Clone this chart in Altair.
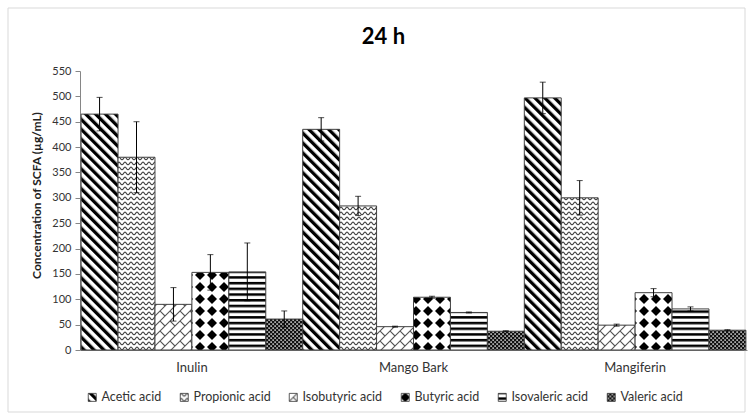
import altair as alt
import pandas as pd

# Substrates (x categories) and acids (series)
groups = ["Inulin", "Mango Bark", "Mangiferin"]
acids = ["Acetic acid", "Propionic acid", "Isobutyric acid",
         "Butyric acid", "Isovaleric acid", "Valeric acid"]

# Mean SCFA concentration after 24 h (µg/mL), in the order of `acids`
inulin = [465, 380, 90, 153, 154, 61]
mango_bark = [435, 284, 46, 104, 74, 37]
mangiferin = [497, 300, 49, 113, 81, 39]

# Standard deviations, same order
inulin_sd = [33, 70, 33, 35, 57, 16]
mango_bark_sd = [23, 19, 1, 2, 1, 1]
mangiferin_sd = [31, 34, 2, 8, 4, 1]

y_ticks = list(range(0, 551, 50))

FONT = "Lato"
Y_TITLE = "Concentration of  SCFA (µg/mL)"

# One SVG pattern per acid, referenced by the fill scale below
pattern_ids = ["p-acetic", "p-propionic", "p-isobutyric",
               "p-butyric", "p-isovaleric", "p-valeric"]
fills = [f"url(#{pid})" for pid in pattern_ids]

PATTERN_DEFS = """
<svg width="0" height="0" style="position:absolute" aria-hidden="true">
 <defs>
  <pattern id="p-acetic" patternUnits="userSpaceOnUse" width="7" height="7" patternTransform="rotate(-45)">
   <rect width="7" height="7" fill="#fff"/>
   <rect width="3.3" height="7" fill="#000"/>
  </pattern>
  <pattern id="p-propionic" patternUnits="userSpaceOnUse" width="6" height="5">
   <rect width="6" height="5" fill="#fff"/>
   <path d="M0,3.7 C1.5,3.7 1.5,1.2 3,1.2 C4.5,1.2 4.5,3.7 6,3.7" fill="none" stroke="#444" stroke-width="1.2"/>
  </pattern>
  <pattern id="p-isobutyric" patternUnits="userSpaceOnUse" width="10" height="10">
   <rect width="10" height="10" fill="#fff"/>
   <path d="M-1,11 L11,-1 M-1,1 L1,-1 M9,11 L11,9 M0,0 L5,5" fill="none" stroke="#555" stroke-width="1.1"/>
  </pattern>
  <pattern id="p-butyric" patternUnits="userSpaceOnUse" x="6" y="6" width="12" height="12">
   <rect width="12" height="12" fill="#fff"/>
   <path d="M6,1 L11,6 L6,11 L1,6 Z" fill="#000"/>
  </pattern>
  <pattern id="p-isovaleric" patternUnits="userSpaceOnUse" width="5.7" height="5.7">
   <rect width="5.7" height="5.7" fill="#fff"/>
   <rect width="5.7" height="2.5" fill="#000"/>
  </pattern>
  <pattern id="p-valeric" patternUnits="userSpaceOnUse" width="4" height="4">
   <rect width="4" height="4" fill="#111"/>
   <rect x="0.4" y="0.4" width="1.4" height="1.4" fill="#fff"/>
   <rect x="2.4" y="2.4" width="1.4" height="1.4" fill="#fff"/>
  </pattern>
 </defs>
</svg>
"""

rows = []
for g, means, sds in zip(groups,
                         [inulin, mango_bark, mangiferin],
                         [inulin_sd, mango_bark_sd, mangiferin_sd]):
    for a, m, s in zip(acids, means, sds):
        rows.append({"substrate": g, "acid": a, "mean": m,
                     "lo": m - s, "hi": m + s})
df = pd.DataFrame(rows)

x_scale = alt.Scale(paddingInner=0, paddingOuter=0.005)
off_scale = alt.Scale(paddingInner=0, paddingOuter=0)
y_scale = alt.Scale(domain=[0, 550], nice=False)

x_axis = alt.Axis(title=None, labelAngle=0, ticks=False, tickSize=0,
                  domainColor="#868686", labelPadding=11,
                  labelFont=FONT, labelFontSize=13, labelColor="#333")
y_axis = alt.Axis(values=y_ticks, title=Y_TITLE, grid=False,
                  domainColor="#868686", tickColor="#868686", tickSize=5,
                  labelPadding=4, labelFont=FONT, labelFontSize=11,
                  labelColor="#333",
                  titleFont=FONT, titleFontSize=12, titleFontWeight="bold",
                  titleColor="#222", titleAngle=270, titleX=-44, titleY=124,
                  titleAlign="center", titleBaseline="middle")

x_enc = alt.X("substrate:N", sort=groups, scale=x_scale, axis=x_axis)
x_off = alt.XOffset("acid:N", sort=acids, scale=off_scale)


def y_enc(field):
    return alt.Y(field, type="quantitative", scale=y_scale, axis=y_axis)


bars = alt.Chart(df).mark_bar(stroke="#404040", strokeWidth=1).encode(
    x=x_enc,
    xOffset=x_off,
    y=y_enc("mean"),
    color=alt.Color(
        "acid:N", sort=acids,
        scale=alt.Scale(domain=acids, range=fills),
        legend=alt.Legend(
            title=None, orient="none", legendX=6, legendY=320,
            direction="horizontal", columns=6, padding=0,
            symbolType="square", symbolSize=64,
            symbolStrokeColor="#333", symbolStrokeWidth=0.8,
            labelFont=FONT, labelFontSize=12.5, labelColor="#333",
            labelOffset=3, columnPadding=16,
        ),
    ),
)

err = alt.Chart(df).mark_rule(color="black", strokeWidth=1).encode(
    x=x_enc, xOffset=x_off, y=y_enc("lo"), y2="hi:Q",
)

cap_hi = alt.Chart(df).mark_tick(color="black", thickness=1, size=6,
                                 orient="horizontal").encode(
    x=x_enc, xOffset=x_off, y=y_enc("hi"),
)

cap_lo = alt.Chart(df).mark_tick(color="black", thickness=1, size=6,
                                 orient="horizontal").encode(
    x=x_enc, xOffset=x_off, y=y_enc("lo"),
)

# light outer frame around the whole figure
frame = alt.Chart(pd.DataFrame({"f": [0]})).mark_rect(
    fill="transparent", stroke="#d9d9d9", strokeWidth=1
).encode(
    x=alt.value(-72), x2=alt.value(665),
    y=alt.value(-63), y2=alt.value(341),
)

chart = alt.layer(frame, bars, err, cap_hi, cap_lo).properties(
    width=667, height=279,
    background="white",
    autosize=alt.AutoSizeParams(type="none"),
    padding={"left": 80, "top": 71, "right": 4, "bottom": 66},
    title=alt.TitleParams("24 h", font=FONT, fontSize=22, fontWeight="bold",
                          color="#000", anchor="middle", frame="group",
                          baseline="alphabetic", offset=-58, dx=-30),
).configure_view(stroke=None)

chart.save("out.html", embed_options={"renderer": "svg", "actions": False})

# make the fill patterns available to the rendered SVG
with open("out.html", encoding="utf-8") as fh:
    page = fh.read()
if "<body>" in page:
    page = page.replace("<body>", "<body>" + PATTERN_DEFS, 1)
else:
    page = page.replace('<div id="vis">', PATTERN_DEFS + '<div id="vis">', 1)
with open("out.html", "w", encoding="utf-8") as fh:
    fh.write(page)
